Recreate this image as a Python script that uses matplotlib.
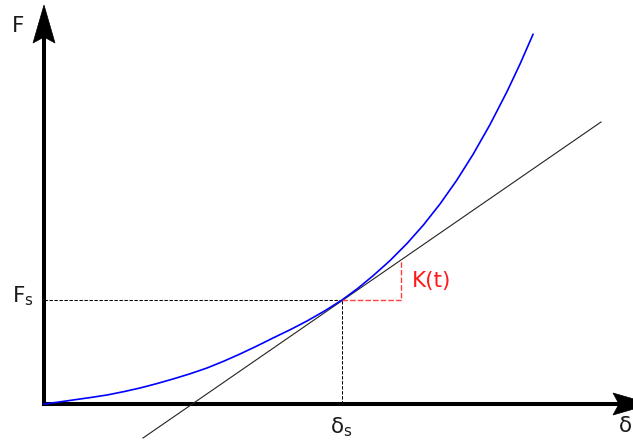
import matplotlib
matplotlib.use("Agg")
import matplotlib.pyplot as plt
from matplotlib.patches import Polygon

# curve F(delta) (origin of the axes at 0,0)
curve_x = [0, 14.5, 29, 46, 63, 79.5, 96, 112.5, 129, 146, 163, 179.5, 196,
           212.5, 229, 246, 263, 280.5, 298, 313.5, 329, 346, 363, 379.5, 396,
           412.5, 429, 446, 463, 476, 489]
curve_y = [0, 1.9, 4, 6.4, 9, 12.3, 16, 20.3, 25, 30.2, 36, 42.7, 50,
           57.8, 66, 74.2, 83, 93, 104, 115.4, 128.2, 143.4, 160.5, 179.1, 200,
           223.4, 249.5, 279.4, 312.4, 339.9, 369.6]

# tangent at the secant point
delta_s = 298
F_s = 104
tangent_x = [99, 557]
tangent_y = [-34, 282]

# slope triangle K(t)
k_x = [298, 357, 357]
k_y = [104, 104, 143]

# axis extents (arrow tips)
x_end = 607
y_end = 399

fig = plt.figure(figsize=(6.33, 4.41), dpi=100)
ax = fig.add_axes([0, 0, 1, 1])
ax.set_xlim(-44, 589)
ax.set_ylim(-37, 404)
ax.axis("off")

# arrow head geometry
head_len, head_half, notch = 38, 11, 6

ax.plot([0, 0], [0, y_end - head_len + notch], color="black", lw=2.9,
        solid_capstyle="projecting")
ax.plot([0, x_end - head_len + notch], [0, 0], color="black", lw=2.9,
        solid_capstyle="projecting")
ax.add_patch(Polygon([(0, y_end), (-head_half, y_end - head_len),
                      (0, y_end - head_len + notch), (head_half, y_end - head_len)],
                     closed=True, fc="black", ec="black", lw=0.5))
ax.add_patch(Polygon([(x_end, 0), (x_end - head_len, head_half),
                      (x_end - head_len + notch, 0), (x_end - head_len, -head_half)],
                     closed=True, fc="black", ec="black", lw=0.5))

# guide lines
ax.plot([0, delta_s], [F_s, F_s], color="black", lw=0.75, dashes=(3.2, 1.6))
ax.plot([delta_s, delta_s], [0, F_s], color="black", lw=0.75, dashes=(3.2, 1.6))

ax.plot(tangent_x, tangent_y, color="#222222", lw=0.8)
ax.plot(curve_x, curve_y, color="#0000ff", lw=1.2, solid_joinstyle="round")

ax.plot(k_x, k_y, color="#ff4040", lw=1.0, dashes=(4, 1.5))

fs = 15.5
ax.text(-32, 372, "F", fontsize=fs, ha="left", va="baseline", color="#1a1a1a")
ax.text(-32, 102, r"F$_\mathregular{s}$", fontsize=fs, ha="left", va="baseline",
        color="#1a1a1a")
ax.text(286, -29, r"δ$_\mathregular{s}$", fontsize=fs, ha="left", va="baseline",
        color="#1a1a1a")
ax.text(575, -28, "δ", fontsize=fs, ha="left", va="baseline", color="#1a1a1a")
ax.text(368, 117, "K(t)", fontsize=fs, ha="left", va="baseline", color="#ff1a1a")

fig.savefig("out.png", dpi=100)
